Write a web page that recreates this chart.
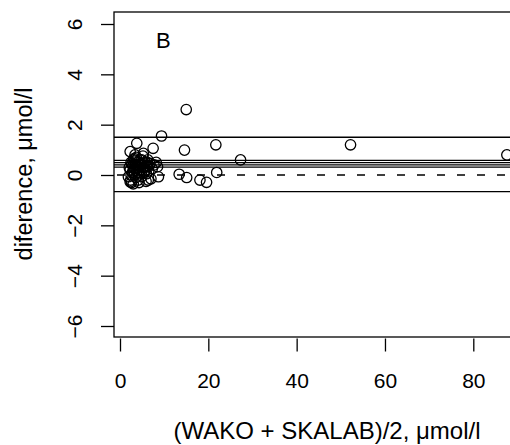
<!DOCTYPE html>
<html>
<head>
<meta charset="utf-8">
<script src="https://cdn.jsdelivr.net/npm/d3@7"></script>
<style>
  body { margin: 0; background: #fff; }
  text { font-family: 'Liberation Sans', Arial, sans-serif; fill: #000; }
</style>
</head>
<body>
<div id="chart"></div>
<script>
// mean of WAKO and SKALAB (x) and their difference (y), umol/l
const means = [
  15.0, 9.4, 3.8, 7.5, 14.6, 21.7, 27.3, 52.2, 87.6, 21.9,
  13.4, 15.1, 18.1, 19.6, 2.3, 2.3, 6.4, 8.7, 8.5, 5.3, 1.9,
  2.3, 2.5, 2.6, 2.8, 2.9, 3.0, 3.1, 3.2, 3.3, 3.5,
  3.6, 3.7, 3.8, 4.0, 4.1, 4.2, 4.4, 4.5, 4.6, 4.8,
  5.0, 5.2, 5.3, 5.5, 5.7, 5.9, 6.1, 6.3, 6.5, 6.8,
  7.0, 7.3, 7.7, 8.2, 6.0, 4.3, 2.4, 3.4,
  2.1, 2.7, 3.0, 3.4, 3.9, 4.2, 4.7, 5.1, 5.6, 6.2,
  2.5, 3.6, 4.9, 5.8, 6.6, 3.2, 4.4
]
const diffs = [
  2.6, 1.55, 1.26, 1.06, 0.99, 1.2, 0.6, 1.2, 0.8, 0.1,
  0.03, -0.1, -0.2, -0.29, 0.93, -0.27, -0.2, -0.07, 0.33, 0.86, -0.07,
  0.2, 0.5, -0.3, 0.1, 0.35, -0.35, 0.6, 0.25, 0.0, 0.4,
  -0.1, 0.7, 0.15, 0.5, -0.2, 0.3, 0.05, 0.6, 0.2, 0.4,
  -0.05, 0.75, 0.3, 0.1, 0.5, -0.25, 0.35, 0.6, 0.15, 0.45,
  -0.15, 0.25, 0.4, 0.5, 0.05, -0.3, -0.2, 0.8,
  0.3, 0.45, 0.15, 0.55, 0.35, 0.1, 0.45, 0.2, 0.3, 0.5,
  0.0, 0.25, 0.6, 0.2, 0.35, 0.65, 0.4
]

// limits of agreement and bias lines
const limitLines = [1.5, -0.66]
const biasLines = [0.58, 0.49, 0.4, 0.31]
const zeroLine = 0

const xTicks = [0, 20, 40, 60, 80]
const yTicks = [-6, -4, -2, 0, 2, 4, 6]

const width = 510
const height = 445

// plot region in pixels (right edge runs off the page)
const box = { left: 114, right: 540, top: 12, bottom: 337 }

const svg = d3
  .select('#chart')
  .append('svg')
  .attr('width', width)
  .attr('height', height)

const x = d3
  .scaleLinear()
  .domain([0, 80])
  .range([120, 473.3])

const y = d3
  .scaleLinear()
  .domain([-6, 6])
  .range([326, 24])

svg
  .append('clipPath')
  .attr('id', 'clip')
  .append('rect')
  .attr('x', box.left)
  .attr('y', box.top)
  .attr('width', box.right - box.left)
  .attr('height', box.bottom - box.top)

const plot = svg.append('g').attr('clip-path', 'url(#clip)')

// horizontal reference lines
plot
  .selectAll('.limit')
  .data(limitLines.concat(biasLines))
  .enter()
  .append('line')
  .attr('x1', box.left)
  .attr('x2', box.right)
  .attr('y1', d => y(d))
  .attr('y2', d => y(d))
  .attr('stroke', '#000')
  .attr('stroke-width', 1.3)

plot
  .append('line')
  .attr('x1', box.left)
  .attr('x2', box.right)
  .attr('y1', y(zeroLine))
  .attr('y2', y(zeroLine))
  .attr('stroke', '#000')
  .attr('stroke-width', 1.3)
  .attr('stroke-dasharray', '8,12')
  .attr('stroke-dashoffset', -3)

// points
plot
  .selectAll('circle')
  .data(means)
  .enter()
  .append('circle')
  .attr('cx', d => x(d))
  .attr('cy', (d, i) => y(diffs[i]))
  .attr('r', 5.2)
  .attr('fill', 'none')
  .attr('stroke', '#000')
  .attr('stroke-width', 1.3)

// box
svg
  .append('rect')
  .attr('x', box.left)
  .attr('y', box.top)
  .attr('width', box.right - box.left)
  .attr('height', box.bottom - box.top)
  .attr('fill', 'none')
  .attr('stroke', '#000')
  .attr('stroke-width', 1.3)

// axes
const xAxis = d3
  .axisBottom(x)
  .tickValues(xTicks)
  .tickSize(13)
  .tickPadding(22)

const xg = svg
  .append('g')
  .attr('transform', 'translate(0,338.5)')
  .call(xAxis)

xg.select('.domain').remove()
xg.selectAll('line').attr('stroke-width', 1.3)
xg
  .selectAll('text')
  .style('font-size', '21px')
  .attr('font-family', null)

const yAxis = d3
  .axisLeft(y)
  .tickValues(yTicks)
  .tickSize(13)
  .tickFormat(d => (d < 0 ? '\u2212' + Math.abs(d) : d))

const yg = svg
  .append('g')
  .attr('transform', 'translate(' + box.left + ',0)')
  .call(yAxis)

yg.select('.domain').remove()
yg.selectAll('line').attr('stroke-width', 1.3)
yg
  .selectAll('text')
  .attr('font-family', null)
  .style('font-size', '21px')
  .attr('x', 0)
  .attr('dy', null)
  .attr('text-anchor', 'middle')
  .attr('transform', 'translate(-39,0) rotate(-90)')
  .attr('y', 7)

// titles
svg
  .append('text')
  .attr('x', 327)
  .attr('y', 439)
  .attr('text-anchor', 'middle')
  .style('font-size', '24px')
  .text('(WAKO + SKALAB)/2, \u03bcmol/l')

svg
  .append('text')
  .attr('transform', 'translate(32,174) rotate(-90)')
  .attr('text-anchor', 'middle')
  .style('font-size', '23.5px')
  .text('diference, \u03bcmol/l')

svg
  .append('text')
  .attr('x', 156)
  .attr('y', 48)
  .style('font-size', '22px')
  .text('B')
</script>
</body>
</html>
